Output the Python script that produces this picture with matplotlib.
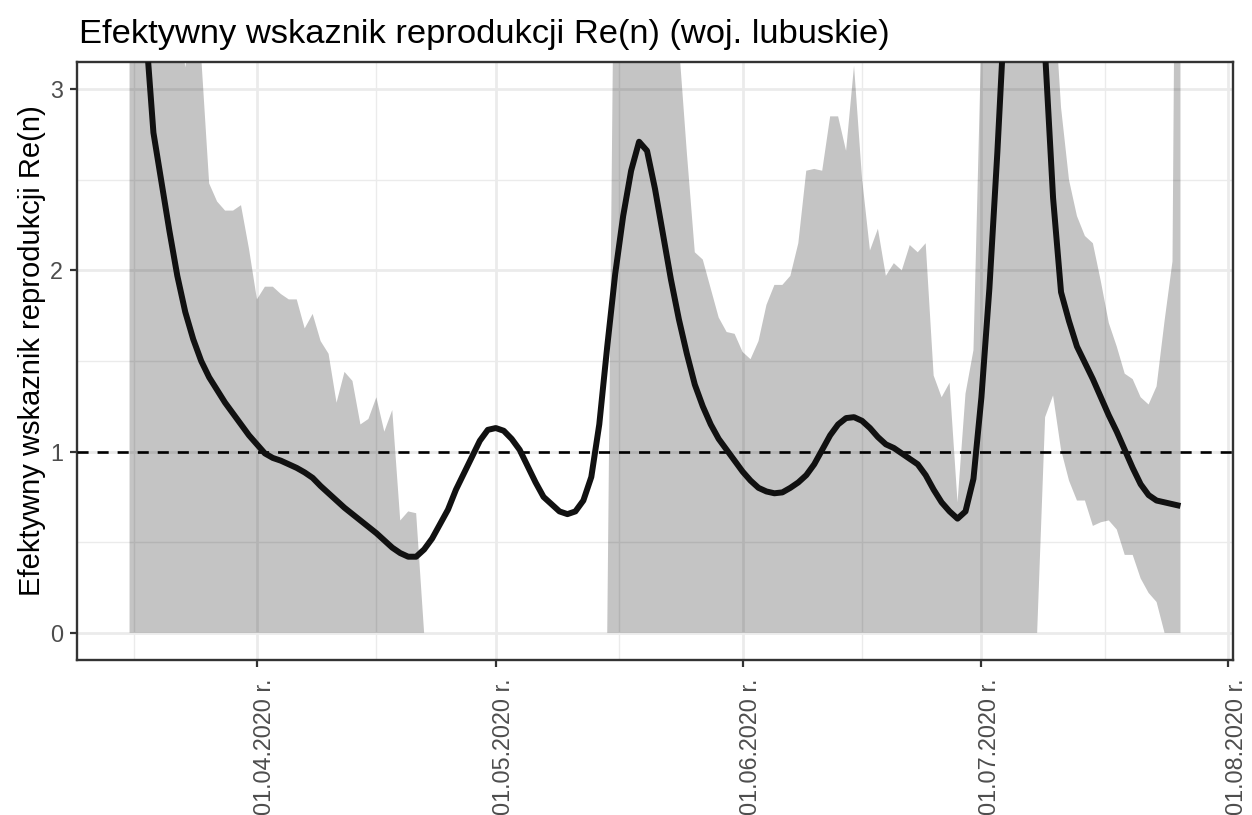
import numpy as np
import pandas as pd
import matplotlib
matplotlib.use("Agg")
import matplotlib.pyplot as plt
import matplotlib.dates as mdates
import matplotlib.transforms as mtransforms

plt.rcParams['font.family'] = ['Liberation Sans', 'DejaVu Sans']

start_date = "2020-03-16"
n_days = 133

re_mean = [
    6.5, 4.6, 3.35, 2.76, 2.49, 2.22, 1.97, 1.77, 1.62, 1.50,
    1.41, 1.34, 1.27, 1.21, 1.15, 1.09, 1.04, 0.99, 0.965, 0.95,
    0.93, 0.91, 0.885, 0.855, 0.81, 0.77, 0.73, 0.69, 0.655, 0.62,
    0.585, 0.55, 0.51, 0.47, 0.44, 0.42, 0.42, 0.46, 0.52, 0.60,
    0.68, 0.79, 0.88, 0.97, 1.06, 1.12, 1.13, 1.115, 1.07, 1.01,
    0.92, 0.83, 0.75, 0.71, 0.67, 0.655, 0.67, 0.73, 0.86, 1.15,
    1.58, 1.98, 2.30, 2.55, 2.71, 2.66, 2.45, 2.20, 1.95, 1.73,
    1.54, 1.37, 1.25, 1.15, 1.07, 1.01, 0.95, 0.89, 0.84, 0.80,
    0.78, 0.77, 0.775, 0.80, 0.83, 0.87, 0.93, 1.01, 1.09, 1.15,
    1.185, 1.19, 1.17, 1.13, 1.08, 1.04, 1.02, 0.99, 0.96, 0.93,
    0.87, 0.79, 0.72, 0.67, 0.63, 0.67, 0.85, 1.30, 1.90, 2.65,
    3.5, 4.2, 4.6, 4.4, 3.9, 3.2, 2.4, 1.88, 1.72, 1.58,
    1.49, 1.40, 1.30, 1.20, 1.11, 1.01, 0.91, 0.82, 0.76, 0.73,
    0.72, 0.71, 0.70,
]

re_upper = [
    8.0, 7.0, 6.0, 5.0, 4.5, 4.0, 3.5, 3.12, 3.4, 3.18,
    2.48, 2.38, 2.33, 2.33, 2.36, 2.12, 1.84, 1.91, 1.91, 1.87,
    1.84, 1.84, 1.68, 1.76, 1.61, 1.54, 1.27, 1.44, 1.39, 1.15,
    1.18, 1.30, 1.11, 1.23, 0.62, 0.67, 0.66, 0.0, 0.0, 0.0,
    0.0, 0.0, 0.0, 0.0, 0.0, 0.0, 0.0, 0.0, 0.0, 0.0,
    0.0, 0.0, 0.0, 0.0, 0.0, 0.0, 0.0, 0.0, 0.0, 0.0,
    0.0, 4.5, 6.0, 7.0, 7.0, 6.5, 5.5, 4.8, 4.0, 3.25,
    2.65, 2.10, 2.06, 1.90, 1.74, 1.66, 1.65, 1.55, 1.51, 1.61,
    1.81, 1.92, 1.92, 1.97, 2.15, 2.55, 2.56, 2.55, 2.85, 2.85,
    2.66, 3.13, 2.51, 2.11, 2.23, 1.97, 2.04, 2.00, 2.14, 2.10,
    2.15, 1.42, 1.30, 1.38, 0.72, 1.32, 1.56, 3.3, 5.0, 7.0,
    9.0, 10.0, 10.0, 9.0, 7.0, 5.0, 3.6, 2.90, 2.50, 2.30,
    2.19, 2.15, 1.94, 1.71, 1.58, 1.43, 1.40, 1.30, 1.26, 1.36,
    1.72, 2.05, 8.0,
]

re_lower = [
    0.0, 0.0, 0.0, 0.0, 0.0, 0.0, 0.0, 0.0, 0.0, 0.0,
    0.0, 0.0, 0.0, 0.0, 0.0, 0.0, 0.0, 0.0, 0.0, 0.0,
    0.0, 0.0, 0.0, 0.0, 0.0, 0.0, 0.0, 0.0, 0.0, 0.0,
    0.0, 0.0, 0.0, 0.0, 0.0, 0.0, 0.0, 0.0, 0.0, 0.0,
    0.0, 0.0, 0.0, 0.0, 0.0, 0.0, 0.0, 0.0, 0.0, 0.0,
    0.0, 0.0, 0.0, 0.0, 0.0, 0.0, 0.0, 0.0, 0.0, 0.0,
    0.0, 0.0, 0.0, 0.0, 0.0, 0.0, 0.0, 0.0, 0.0, 0.0,
    0.0, 0.0, 0.0, 0.0, 0.0, 0.0, 0.0, 0.0, 0.0, 0.0,
    0.0, 0.0, 0.0, 0.0, 0.0, 0.0, 0.0, 0.0, 0.0, 0.0,
    0.0, 0.0, 0.0, 0.0, 0.0, 0.0, 0.0, 0.0, 0.0, 0.0,
    0.0, 0.0, 0.0, 0.0, 0.0, 0.0, 0.0, 0.0, 0.0, 0.0,
    0.0, 0.0, 0.0, 0.0, 0.0, 1.19, 1.31, 1.01, 0.84, 0.73,
    0.73, 0.59, 0.61, 0.62, 0.57, 0.43, 0.43, 0.30, 0.22, 0.17,
    0.0, 0.0, 0.0,
]

x_tick_dates = ["2020-04-01 00:00", "2020-05-01 00:00", "2020-06-01 00:00",
                "2020-07-01 00:00", "2020-08-01 00:00"]
x_minor_dates = ["2020-03-16 12:00", "2020-04-16 00:00", "2020-05-16 12:00",
                 "2020-06-16 00:00", "2020-07-16 12:00"]
y_ticks = [0, 1, 2, 3]
y_minor = [0.5, 1.5, 2.5]
threshold = 1.0
title = "Efektywny wskaznik reprodukcji Re(n) (woj. lubuskie)"
ylabel = "Efektywny wskaznik reprodukcji Re(n)"

dates = pd.date_range(start_date, periods=n_days, freq="D")
x = mdates.date2num(dates.to_pydatetime())

W, H = 1252, 815
fig = plt.figure(figsize=(W / 100, H / 100), dpi=100)
ax = fig.add_axes([77 / W, 1 - 660 / H, (1233 - 77) / W, (660 - 62) / H])

ax.fill_between(x, re_lower, re_upper, color="black", alpha=0.23, linewidth=0, zorder=2)
ax.axhline(threshold, color="black", linewidth=1.9, dashes=(4.2, 3.4), dash_capstyle="butt", zorder=3)
ax.plot(x, re_mean, color="#111111", linewidth=4.3, solid_joinstyle="round", solid_capstyle="butt", zorder=4)

span = x[-1] - x[0]
ax.set_xlim(x[0] - 0.05 * span, x[-1] + 0.05 * span)
ax.set_ylim(-0.15, 3.15)

major_dt = pd.to_datetime(x_tick_dates, format="%Y-%m-%d %H:%M")
minor_dt = pd.to_datetime(x_minor_dates, format="%Y-%m-%d %H:%M")
major_x = mdates.date2num(major_dt.to_pydatetime())
minor_x = mdates.date2num(minor_dt.to_pydatetime())
ax.set_xticks(major_x)
ax.set_xticks(minor_x, minor=True)
ax.set_xticklabels([d.strftime("%d.%m.%Y r.") for d in major_dt],
                   rotation=90, ha="center", va="top")
ax.set_yticks(y_ticks)
ax.set_yticks(y_minor, minor=True)
ax.set_yticklabels([str(v) for v in y_ticks])

ax.set_axisbelow(True)
ax.grid(which="major", color="#EBEBEB", linewidth=2.0)
ax.grid(which="minor", color="#EBEBEB", linewidth=1.0)

for s in ax.spines.values():
    s.set_color("#333333")
    s.set_linewidth(1.7)

ax.tick_params(which="major", length=5.0, width=1.6, color="#333333",
               labelcolor="#4D4D4D", labelsize=16.8, pad=5.0)
ax.tick_params(axis="x", which="major", pad=8.4)
ax.tick_params(which="minor", length=0)

offset = mtransforms.ScaledTranslation(8.0 / 100, 0, fig.dpi_scale_trans)
for lab in ax.get_xticklabels():
    lab.set_transform(lab.get_transform() + offset)

ax.set_ylabel(ylabel, fontsize=21, color="black")
ax.yaxis.set_label_coords(-(77 - 46) / (1233 - 77), (660 - 351) / (660 - 62))

fig.text(79 / W, 1 - 43 / H, title, fontsize=24.8, color="black", ha="left", va="baseline")

fig.savefig("out.png", dpi=100, facecolor="white")
